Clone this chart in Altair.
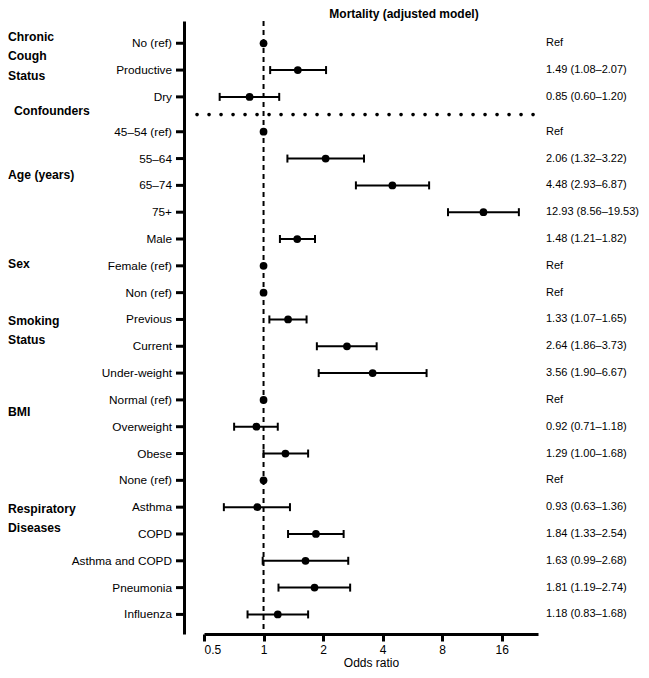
import altair as alt
import pandas as pd

title_text = "Mortality (adjusted model)"
row_labels = ["No (ref)", "Productive", "Dry", "45–54 (ref)", "55–64", "65–74", "75+",
              "Male", "Female (ref)", "Non (ref)", "Previous", "Current", "Under-weight",
              "Normal (ref)", "Overweight", "Obese", "None (ref)", "Asthma", "COPD",
              "Asthma and COPD", "Pneumonia", "Influenza"]
odds = [1, 1.49, 0.85, 1, 2.06, 4.48, 12.93, 1.48, 1, 1, 1.33, 2.64, 3.56, 1, 0.92, 1.29,
        1, 0.93, 1.84, 1.63, 1.81, 1.18]
ci_low = [None, 1.08, 0.60, None, 1.32, 2.93, 8.56, 1.21, None, None, 1.07, 1.86, 1.90,
          None, 0.71, 1.00, None, 0.63, 1.33, 0.99, 1.19, 0.83]
ci_high = [None, 2.07, 1.20, None, 3.22, 6.87, 19.53, 1.82, None, None, 1.65, 3.73, 6.67,
           None, 1.18, 1.68, None, 1.36, 2.54, 2.68, 2.74, 1.68]
x_ticks = [0.5, 1, 2, 4, 8, 16]
group_lines = ["Chronic", "Cough", "Status", "Age (years)", "Sex", "Smoking", "Status",
               "BMI", "Respiratory", "Diseases"]
section_label = "Confounders"

# layout (row units)
group_line_pos = [-0.25, 0.49, 1.22, 4.9, 8.25, 10.35, 11.05, 13.76, 17.37, 18.07]
section_pos = 2.51
separator_pos = 2.66
n_first_block = 3
block_gap = 0.3

FONT = "Liberation Sans"
W, H = 334, 613

rows = []
for i, lab in enumerate(row_labels):
    pos = i + (block_gap if i >= n_first_block else 0)
    lo, hi = ci_low[i], ci_high[i]
    txt = "Ref" if lo is None else f"{odds[i]:.2f} ({lo:.2f}–{hi:.2f})"
    rows.append({"label": lab, "pos": pos, "or": odds[i], "lo": lo, "hi": hi, "txt": txt})
df = pd.DataFrame(rows)
df_ci = df.dropna(subset=["lo"])

y_scale = alt.Scale(domain=[-0.83, 22.03], reverse=True, nice=False, zero=False)
y_axis = alt.Axis(offset=20, ticks=False, labels=False, grid=False, title=None,
                  domainWidth=3, domainColor="black")
x_scale = alt.Scale(type="log", base=2, domain=[0.5, 24.4], nice=False)
x_axis = alt.Axis(values=x_ticks, format="~g", grid=False, title="Odds ratio",
                  domainWidth=3, domainColor="black", tickWidth=3, tickSize=7,
                  tickColor="black", labelFontSize=12, labelColor="black",
                  labelPadding=3, titleFontSize=12, titleFontWeight="normal",
                  titleColor="black", titlePadding=2, labelFont=FONT, titleFont=FONT)


def Y(field):
    return alt.Y(field, scale=y_scale, axis=y_axis)


def X(field):
    return alt.X(field, scale=x_scale, axis=x_axis)


base = alt.Chart(df)

ref_line = alt.Chart(pd.DataFrame({"v": [1]})).mark_rule(
    strokeDash=[5, 4], strokeWidth=2, color="black"
).encode(x=X("v:Q"), y=alt.value(0), y2=alt.value(H))

sep = alt.Chart(pd.DataFrame({"s": [separator_pos]})).mark_rule(
    strokeDash=[0.1, 11.9], strokeCap="round", strokeWidth=3.6, color="black"
).encode(y=Y("s:Q"), x=alt.value(-7), x2=alt.value(332))

ci_rule = alt.Chart(df_ci).mark_rule(strokeWidth=2, color="black").encode(
    x=X("lo:Q"), x2="hi:Q", y=Y("pos:Q"))

caps = alt.Chart(df_ci).transform_fold(["lo", "hi"], as_=["end", "val"]).mark_tick(
    orient="vertical", size=8, thickness=2, color="black", opacity=1
).encode(x=X("val:Q"), y=Y("pos:Q"))

pts = base.mark_circle(size=60, color="black", opacity=1).encode(
    x=X("or:Q"), y=Y("pos:Q"))

row_ticks = base.mark_rule(strokeWidth=3, color="black").encode(
    y=Y("pos:Q"), x=alt.value(-28), x2=alt.value(-20))

row_text = base.mark_text(align="right", baseline="middle", fontSize=11.8,
                          color="black", font=FONT).encode(
    y=Y("pos:Q"), x=alt.value(-32), text="label:N")

or_text = base.mark_text(align="left", baseline="middle", fontSize=11,
                         color="black", font=FONT).encode(
    y=Y("pos:Q"), x=alt.value(342), text="txt:N")

df_groups = pd.DataFrame({"g": group_lines, "gp": group_line_pos})
groups = alt.Chart(df_groups).mark_text(align="left", baseline="middle", fontSize=12.2,
                                        fontWeight="bold", color="black", font=FONT).encode(
    y=Y("gp:Q"), x=alt.value(-196), text="g:N")

section = alt.Chart(pd.DataFrame({"g": [section_label], "gp": [section_pos]})).mark_text(
    align="left", baseline="middle", fontSize=12.2, fontWeight="bold", color="black",
    font=FONT).encode(y=Y("gp:Q"), x=alt.value(-190), text="g:N")

title = alt.Chart(pd.DataFrame({"t": [title_text]})).mark_text(
    align="center", baseline="top", fontSize=12, fontWeight="bold", color="black",
    font=FONT).encode(x=alt.value(200), y=alt.value(-12), text="t:N")

chart = alt.layer(ref_line, sep, ci_rule, caps, pts, row_ticks, row_text, or_text,
                  groups, section, title).properties(
    width=W, height=H, padding=0
).configure(font=FONT).configure_view(stroke=None)

chart.save("out.html", embed_options={"renderer": "svg", "actions": False})
